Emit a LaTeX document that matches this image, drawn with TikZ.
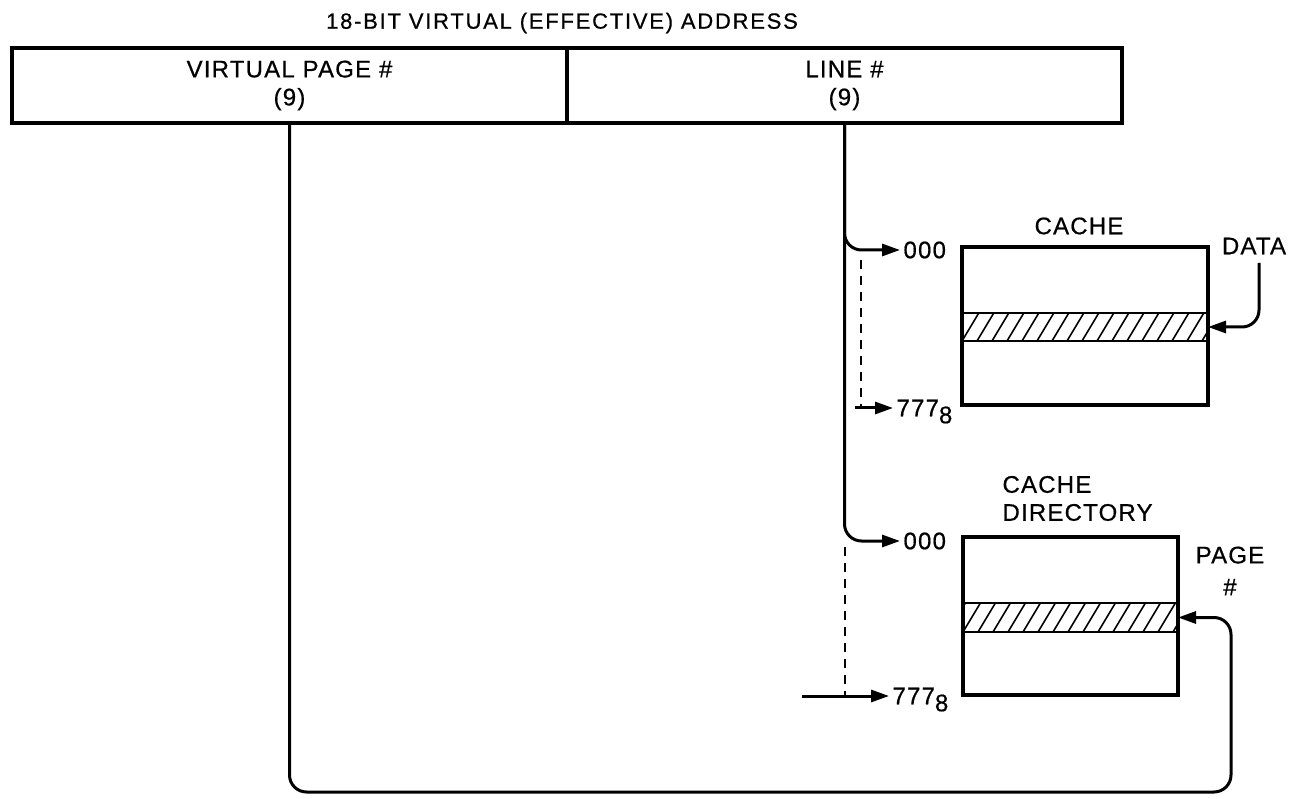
\documentclass[tikz,border=0pt]{standalone}
\usepackage{fontspec}
\setmainfont{Liberation Sans}[LetterSpace=5, FakeBold=0.6]
\usetikzlibrary{arrows.meta, positioning}

\begin{document}
\begin{tikzpicture}[x=1pt,y=-1pt,
	every node/.style={font=\fontsize{24}{28}\selectfont},
	field/.style={draw, line width=3.6pt, minimum height=75pt, inner sep=0pt, outer sep=0pt, align=center},
	store/.style={draw, line width=4pt, inner sep=0pt, outer sep=0pt},
	hatchrow/.style={draw, line width=2.8pt, inner sep=0pt, outer sep=0pt, path picture={
		\foreach \i in {-30,-15,...,270}
			\draw[line width=1.6pt] ([xshift=\i pt]path picture bounding box.south west) -- ++(18,-30);}},
	wire/.style={line width=3pt, rounded corners=17pt},
	arrowed/.style={-{Triangle[length=18pt,width=12pt]}},
	dashline/.style={line width=2.8pt, dash pattern=on 9pt off 7pt}]
	\useasboundingbox (0,0) rectangle (1304,799);
	
	\node (title) at (562,23) [font=\fontsize{22}{24}\selectfont\addfontfeatures{LetterSpace=8}] {18-BIT VIRTUAL (EFFECTIVE) ADDRESS};
	\node[field, minimum width=555pt] (vpage) at (289.5,85.5) {VIRTUAL PAGE \#\\(9)};
	\node[field, minimum width=555pt, right=0pt of vpage] (line) {LINE \#\\(9)};
	
	% cache and its directory
	\node[store, minimum width=246pt, minimum height=158pt] (cache) at (1085,326) {};
	\node[hatchrow, minimum width=246pt, minimum height=28pt] (cacherow) at (1085,327) {};
	\node (cachelbl) at (1079,226) {CACHE};
	\node (data) at (1254,246) {DATA};
	
	\node[store, minimum width=215pt, minimum height=158pt] (dir) at (1070.5,616) {};
	\node[hatchrow, minimum width=215pt, minimum height=29pt] (dirrow) at (1070.5,617.5) {};
	\node (dirlbl) at (999,498.5) [anchor=west, align=left] {CACHE\\DIRECTORY};
	\node (page) at (1230,571) [align=center, font=\fontsize{24}{32}\selectfont] {PAGE\\\#};
	
	\node[anchor=west] (c000) at (900,250) {000};
	\node[anchor=west] (c777) at (893,408) {777\raisebox{-7pt}[0pt][0pt]{8}};
	\node[anchor=west] (d000) at (900,541) {000};
	\node[anchor=west] (d777) at (889,696) {777\raisebox{-7pt}[0pt][0pt]{8}};
	
	\coordinate (ctop) at (861,260);
	\coordinate (cbot) at (861,408);
	\coordinate (cin) at (855,408);
	\coordinate (dtop) at (845,547);
	\coordinate (dbot) at (845,696);
	\coordinate (din) at (802,696);
	\coordinate (datain) at (1259,263);
	\coordinate (loopr) at (1231,792);
	
	\draw[wire,arrowed] (line.south) |- (c000.west);
	\draw[wire,arrowed] (line.south) |- (d000.west);
	\draw[dashline] (ctop) -- (cbot);
	\draw[wire,arrowed] (cin) -- (c777.west);
	\draw[dashline] (dtop) -- (dbot);
	\draw[wire,arrowed] (din) -- (d777.west);
	\draw[wire,arrowed] (datain) |- (cacherow.east);
	\draw[wire,arrowed] (vpage.south) |- (loopr) |- (dirrow.east);
\end{tikzpicture}
\end{document}
